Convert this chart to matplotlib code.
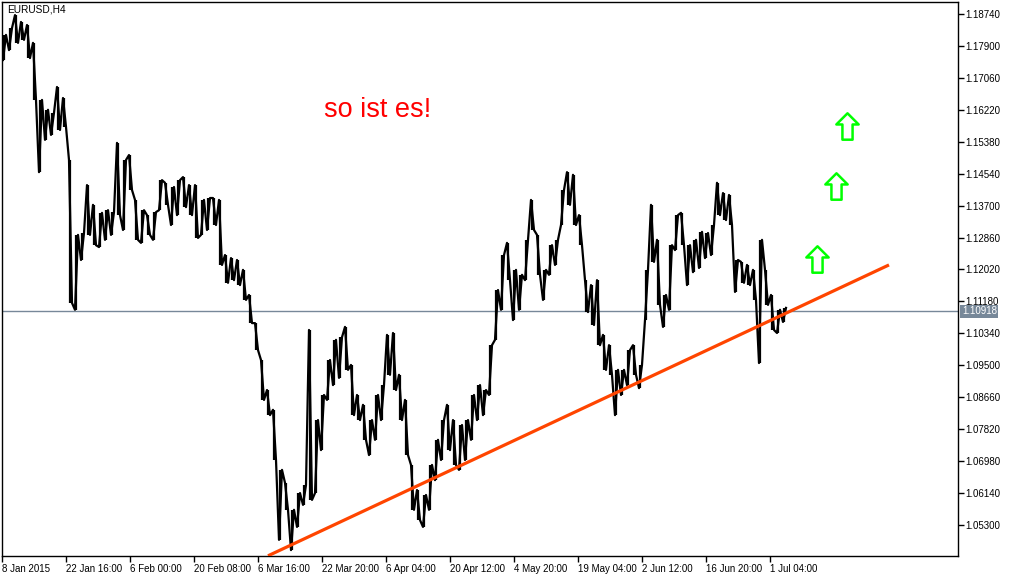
import matplotlib
matplotlib.use('Agg')
import matplotlib.pyplot as plt
import numpy as np
from matplotlib.path import Path

# daily ranges of EURUSD H4 (6 bars per day)
day_highs = [1.1819, 1.1837, 1.1871, 1.1853, 1.1845, 1.1798, 1.1648, 1.1622, 1.1614, 1.1682,
             1.1653, 1.1490, 1.1293, 1.1298, 1.1424, 1.1372, 1.1351, 1.1358, 1.1353, 1.1535,
             1.1490, 1.1503, 1.1385, 1.1358, 1.1345, 1.1353, 1.1437, 1.1430, 1.1419, 1.1437,
             1.1445, 1.1424, 1.1424, 1.1385, 1.1390, 1.1390, 1.1385, 1.1240, 1.1232, 1.1227,
             1.1201, 1.1135, 1.1061, 1.0964, 1.0885, 1.0833, 1.0675, 1.0641, 1.0570, 1.0614,
             1.0635, 1.1043, 1.0806, 1.0872, 1.0964, 1.1017, 1.1024, 1.1051, 1.0951, 1.0872,
             1.0846, 1.0806, 1.0872, 1.0898, 1.1030, 1.1035, 1.0925, 1.0859, 1.0688, 1.0622,
             1.0609, 1.0688, 1.0754, 1.0806, 1.0846, 1.0806, 1.0793, 1.0806, 1.0872, 1.0898,
             1.0885, 1.1003, 1.1148, 1.1240, 1.1272, 1.1201, 1.1188, 1.1280, 1.1385, 1.1293,
             1.1201, 1.1266, 1.1280, 1.1411, 1.1458, 1.1451, 1.1345, 1.1174, 1.1161, 1.1174,
             1.1030, 1.1003, 1.0938, 1.0938, 1.0990, 1.1003, 1.0951, 1.1201, 1.1372, 1.1280,
             1.1135, 1.1266, 1.1345, 1.1351, 1.1266, 1.1280, 1.1301, 1.1298, 1.1319, 1.1430,
             1.1403, 1.1398, 1.1227, 1.1222, 1.1214, 1.1201, 1.1280, 1.1201, 1.1135, 1.1096,
             1.1101]
day_lows = [1.1753, 1.1779, 1.1798, 1.1806, 1.1758, 1.1648, 1.1458, 1.1543, 1.1556, 1.1569,
            1.1577, 1.1114, 1.1096, 1.1227, 1.1293, 1.1266, 1.1261, 1.1280, 1.1293, 1.1345,
            1.1306, 1.1411, 1.1280, 1.1272, 1.1293, 1.1280, 1.1358, 1.1372, 1.1319, 1.1345,
            1.1366, 1.1345, 1.1285, 1.1293, 1.1306, 1.1319, 1.1214, 1.1167, 1.1174, 1.1161,
            1.1122, 1.1061, 1.0990, 1.0859, 1.0819, 1.0701, 1.0491, 1.0570, 1.0464, 1.0525,
            1.0583, 1.0596, 1.0614, 1.0727, 1.0859, 1.0898, 1.0917, 1.0938, 1.0819, 1.0806,
            1.0754, 1.0714, 1.0754, 1.0806, 1.0925, 1.0885, 1.0806, 1.0714, 1.0570, 1.0543,
            1.0525, 1.0570, 1.0648, 1.0701, 1.0727, 1.0688, 1.0675, 1.0701, 1.0754, 1.0806,
            1.0819, 1.0872, 1.1017, 1.1096, 1.1174, 1.1069, 1.1096, 1.1174, 1.1306, 1.1188,
            1.1122, 1.1188, 1.1214, 1.1319, 1.1372, 1.1319, 1.1266, 1.1090, 1.1056, 1.1003,
            1.0938, 1.0925, 1.0819, 1.0872, 1.0898, 1.0925, 1.0890, 1.1069, 1.1222, 1.1109,
            1.1051, 1.1096, 1.1253, 1.1266, 1.1161, 1.1195, 1.1206, 1.1232, 1.1240, 1.1345,
            1.1332, 1.1319, 1.1143, 1.1167, 1.1161, 1.1122, 1.0956, 1.1109, 1.1043, 1.1035,
            1.1064]

BARS_PER_DAY = 6
time_labels = ['8 Jan 2015', '22 Jan 16:00', '6 Feb 00:00', '20 Feb 08:00', '6 Mar 16:00',
               '22 Mar 20:00', '6 Apr 04:00', '20 Apr 12:00', '4 May 20:00', '19 May 04:00',
               '2 Jun 12:00', '16 Jun 20:00', '1 Jul 04:00']
label_step = 64  # bars between time labels

price_ticks = [1.05300, 1.06140, 1.06980, 1.07820, 1.08660, 1.09500, 1.10340, 1.11180,
               1.12020, 1.12860, 1.13700, 1.14540, 1.15380, 1.16220, 1.17060, 1.17900, 1.18740]
last_price = 1.10918

# trend line (bar index, price)
trend_x = [266, 887]
trend_y = [1.0449, 1.1214]

# up arrows (bar index, price)
arrow_x = [815, 834, 845]
arrow_y = [1.1230, 1.1422, 1.1579]

fig = plt.figure(figsize=(10.12, 5.78), dpi=100)
ax = fig.add_axes([2 / 1012, 22 / 578, 956 / 1012, 554 / 578])

highs = np.array(day_highs)
lows = np.array(day_lows)
mids = (highs + lows) / 2
idx = np.arange(len(highs)) * BARS_PER_DAY + 3

# each day: visit high then low if the market heads down next, else low then high
xs, ys = [], []
for i in range(len(highs)):
    nxt = mids[i + 1] if i + 1 < len(mids) else mids[i]
    first, second = (highs[i], lows[i]) if nxt < mids[i] else (lows[i], highs[i])
    xs += [idx[i] - 2, idx[i] + 1]
    ys += [first, second]
ax.plot(xs, ys, color='black', lw=1.6, zorder=2)
ax.vlines(idx - 1, lows, highs, color='black', lw=1.6, zorder=2)

ax.axhline(last_price, color='#778899', lw=1, zorder=1)
ax.plot(trend_x, trend_y, color='#FF4500', lw=2.3, solid_capstyle='butt', zorder=3)

# hollow up-arrow marker
verts = [(0, 13), (11, 2), (5, 2), (5, -13), (-5, -13), (-5, 2), (-11, 2), (0, 13)]
arrow_path = Path(verts, [Path.MOVETO] + [Path.LINETO] * 6 + [Path.CLOSEPOLY])
ax.plot(arrow_x, arrow_y, linestyle='none', marker=arrow_path, markersize=19,
        markerfacecolor='white', markeredgecolor='#00FF00', markeredgewidth=1.8, zorder=4)

ax.text(322, 1.1622, 'so ist es!', color='#FF0000', fontsize=19.5,
        family='Liberation Sans', va='center', ha='left')
ax.text(0.005, 0.996, 'EURUSD,H4', transform=ax.transAxes, fontsize=7.3,
        family='Liberation Sans', va='top', ha='left')

ax.set_xlim(0, 956)
ax.set_ylim(1.04485, 1.19055)

ax.set_xticks(np.arange(len(time_labels)) * label_step)
ax.set_xticklabels(time_labels, fontsize=7, family='Liberation Sans')
for lab in ax.get_xticklabels():
    lab.set_ha('left')
ax.yaxis.tick_right()
ax.set_yticks(price_ticks)
ax.set_yticklabels([f'{p:.5f}' for p in price_ticks], fontsize=7, family='Liberation Sans')
ax.tick_params(direction='out', length=4, width=1, pad=1.5)

ax.text(1.004, last_price, f'{last_price:.5f}', transform=ax.get_yaxis_transform(),
        fontsize=7, family='Liberation Sans', color='white', va='center', ha='left',
        bbox=dict(boxstyle='square,pad=0.15', facecolor='#778899', edgecolor='none'))

for s in ax.spines.values():
    s.set_linewidth(1)

fig.savefig('out.png', dpi=100, facecolor='white')
